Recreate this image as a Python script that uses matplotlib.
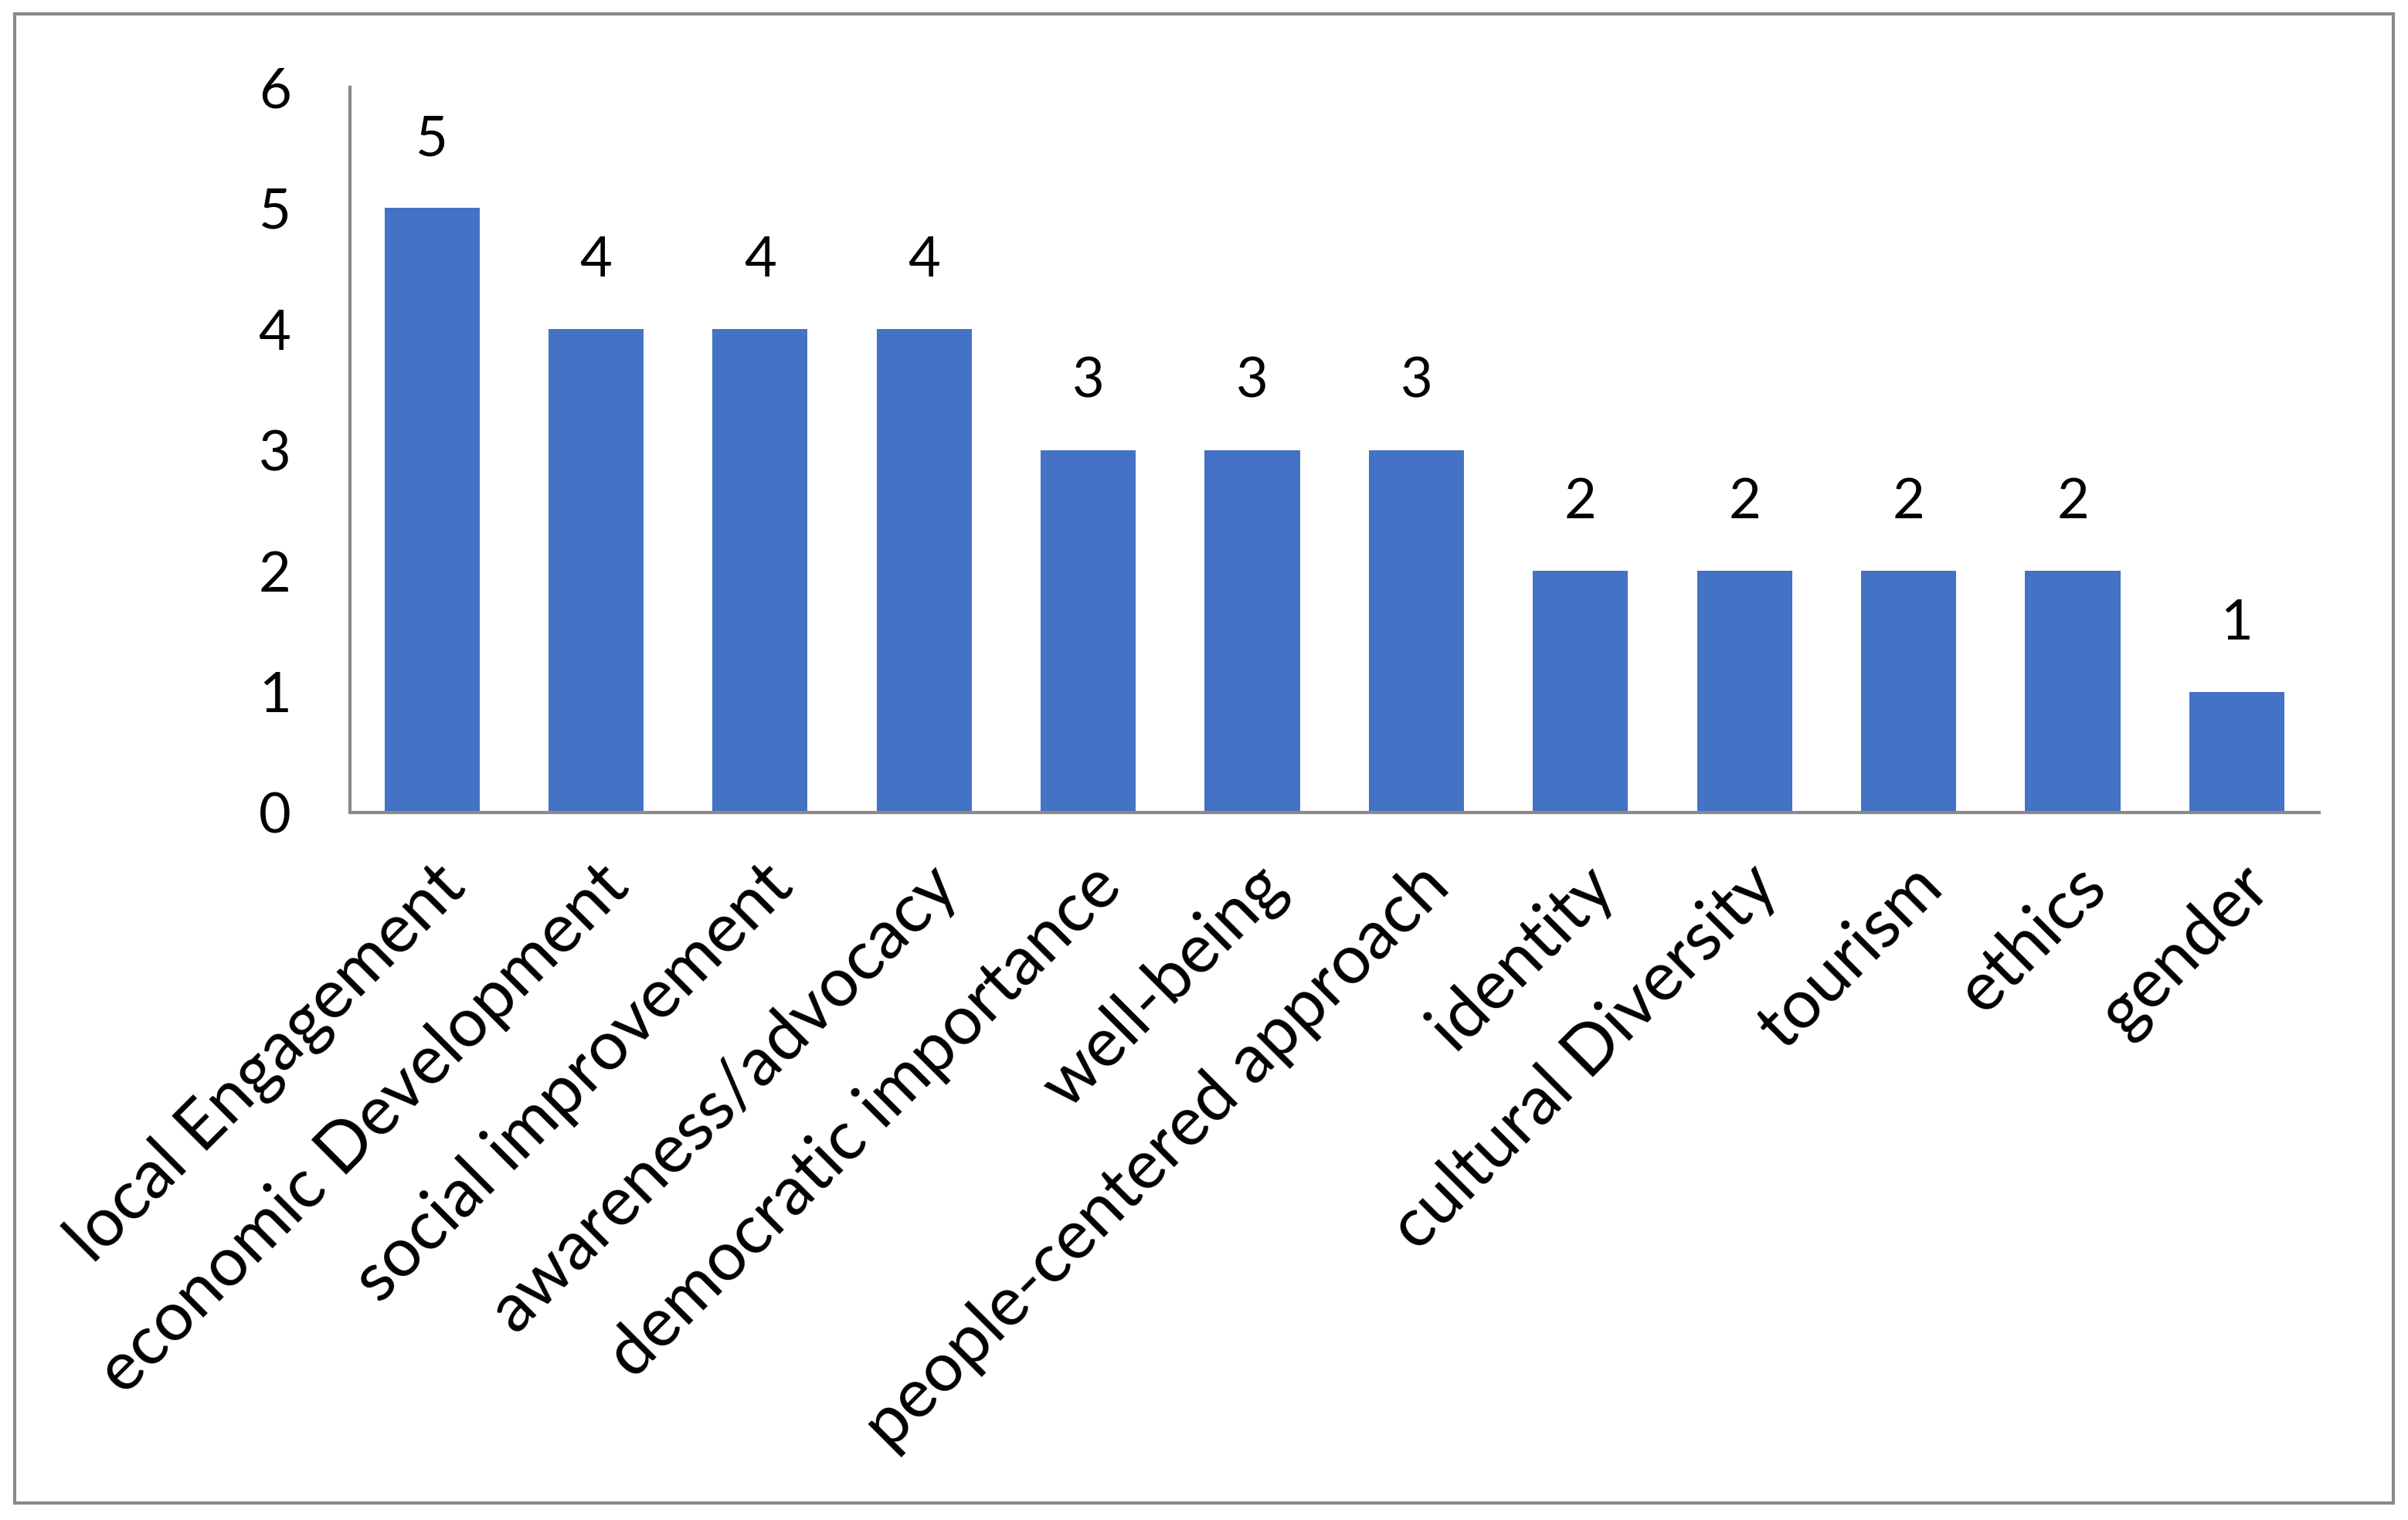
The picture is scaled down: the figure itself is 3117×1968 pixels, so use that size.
import matplotlib.pyplot as plt
from matplotlib.patches import Rectangle

# Data for the chart
themes = ["local Engagement", "economic Development", "social improvement",
          "awareness/advocacy", "democratic importance", "well-being",
          "people-centered approach", "identity", "cultural Diversity",
          "tourism", "ethics", "gender"]
counts = [5, 4, 4, 4, 3, 3, 3, 2, 2, 2, 2, 1]

plt.rcParams['font.family'] = ['Lato', 'DejaVu Sans']

fig = plt.figure(figsize=(31.17, 19.68), dpi=100)
ax = fig.add_axes([0.1453, 0.4654, 0.8177, 0.4772])

x = range(len(themes))
bars = ax.bar(x, counts, width=0.58, color='#4472C4')

# value labels above bars
for b, v in zip(bars, counts):
    ax.annotate(str(v), (b.get_x() + b.get_width() / 2, v),
                xytext=(0, 40), textcoords='offset points',
                ha='center', va='bottom', fontsize=52)

ax.set_xlim(-0.5, len(themes) - 0.5)
ax.set_ylim(0, 6)
ax.set_yticks(range(7))
ax.set_xticks(list(x))
ax.set_xticklabels(themes, rotation=45, ha='right', va='top',
                   rotation_mode='anchor', fontsize=64)
ax.tick_params(axis='y', length=0, pad=55, labelsize=52)
ax.tick_params(axis='x', length=0, pad=38)

for s in ['top', 'right']:
    ax.spines[s].set_visible(False)
for s in ['left', 'bottom']:
    ax.spines[s].set_color('#898989')
    ax.spines[s].set_linewidth(3)

# outer border of the chart area
fig.patches.append(Rectangle((0.006, 0.011), 0.988, 0.980, transform=fig.transFigure,
                             fill=False, edgecolor='#898989', linewidth=3))

fig.savefig('out.png', dpi=100)
